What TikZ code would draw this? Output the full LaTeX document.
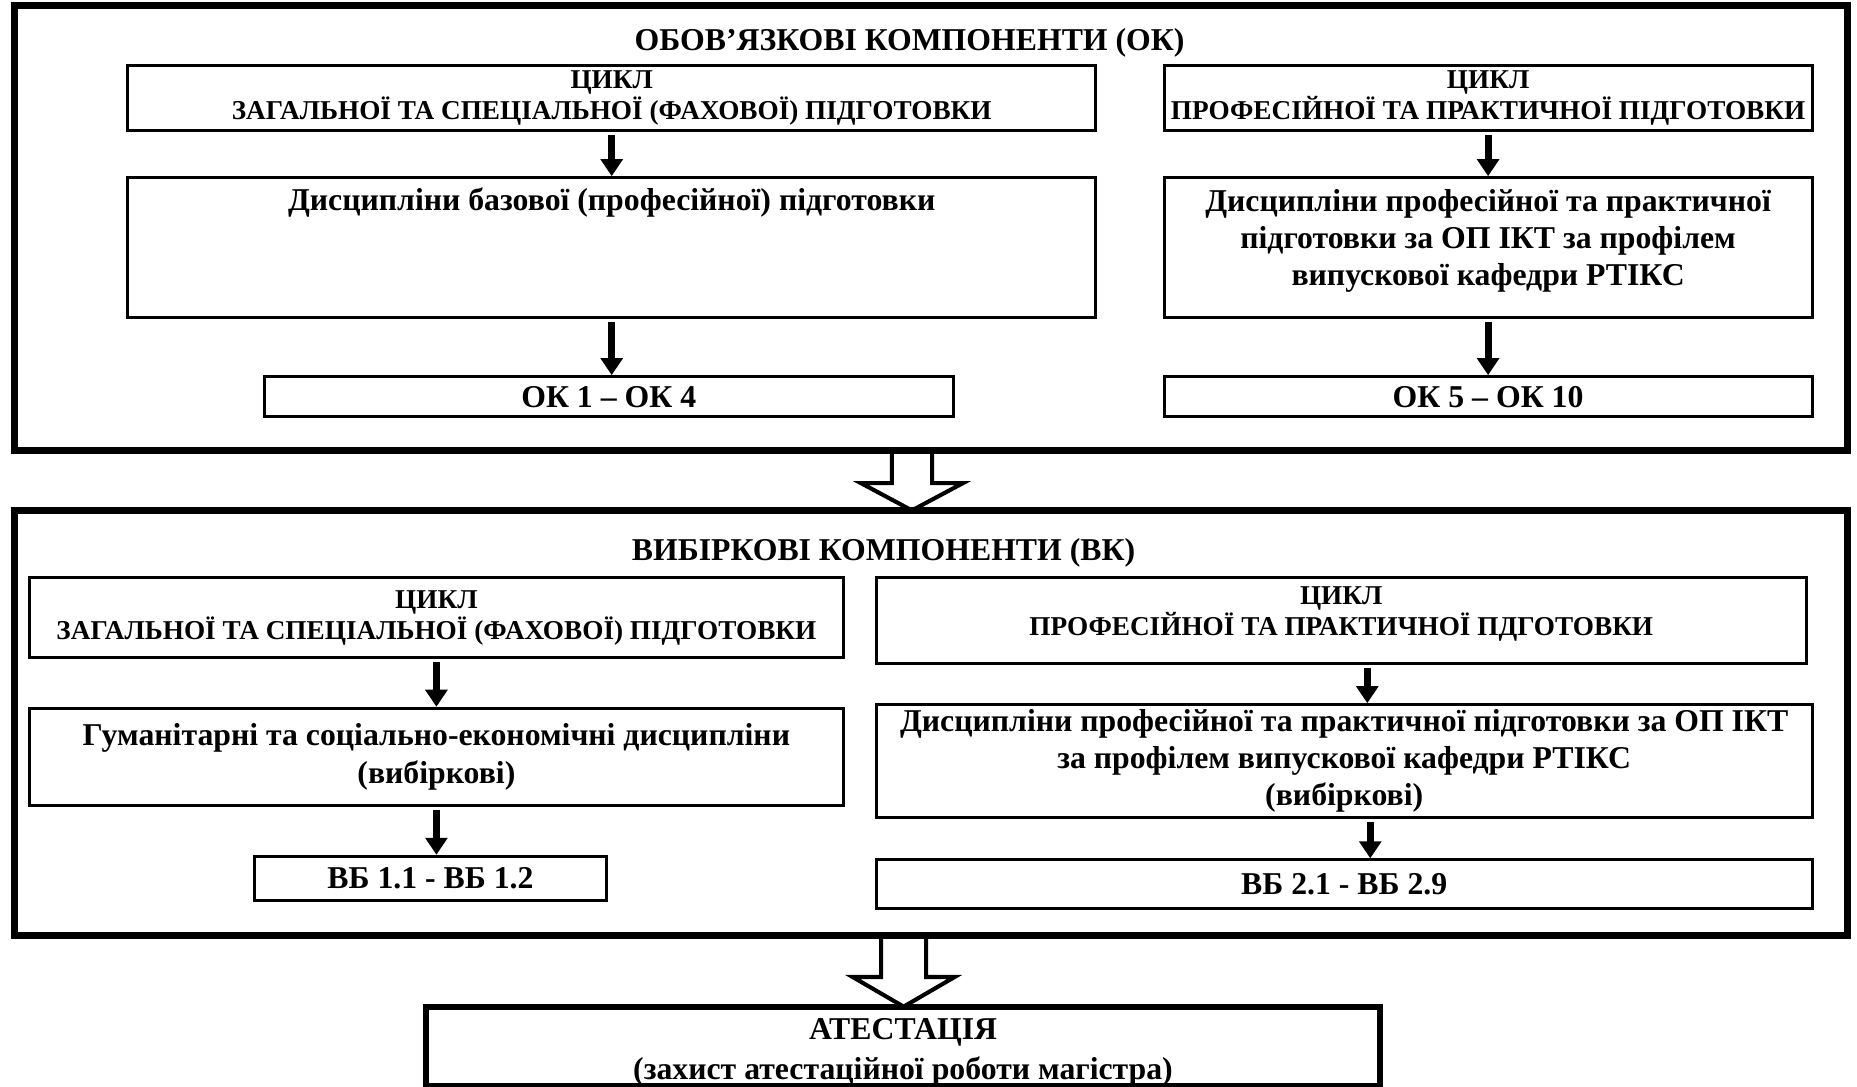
\documentclass[tikz,border=0pt]{standalone}
\usepackage{fontspec}
\setmainfont{Liberation Serif}
\usetikzlibrary{positioning,arrows.meta,calc}

\begin{document}
\begin{tikzpicture}[x=0.522pt,y=-0.522pt,
	outerframe/.style={draw,line width=3.1pt},
	box/.style={draw,line width=1.3pt,align=center,inner sep=0pt,font=\fontsize{12}{13.6}\selectfont\bfseries},
	big/.style={font=\fontsize{14}{16.4}\selectfont\bfseries},
	heading/.style={align=center,inner sep=0pt,font=\fontsize{14}{16.4}\selectfont\bfseries},
	arr/.style={line width=3pt,shorten <=1.5pt,-{Triangle[length=7.5pt,width=9.5pt]}},
	hollow/.style={draw,line width=1.8pt,line join=miter}]
\def\pix{0.522pt}
\useasboundingbox (0,0) rectangle (1568,917);

% обов'язкові компоненти
\node[outerframe,minimum width=1548*\pix,minimum height=375*\pix] (ok) at (786,192.5) {};
\node[heading] (okt) at (768,36) {ОБОВ’ЯЗКОВІ КОМПОНЕНТИ (ОК)};
\node[box,minimum width=817*\pix,minimum height=55*\pix] (cyc1) at (516.5,82.5) {ЦИКЛ\\ЗАГАЛЬНОЇ ТА СПЕЦІАЛЬНОЇ (ФАХОВОЇ) ПІДГОТОВКИ};
\node[box,minimum width=817*\pix,minimum height=118*\pix] (disc1) at (516.5,209) {};
\node[heading,below=5pt of disc1.north] (disc1t) {Дисципліни базової (професійної) підготовки};
\node[box,big,minimum width=582*\pix,minimum height=34*\pix] (ok1) at (514,335) {ОК 1 – ОК 4};
\node[box,minimum width=547*\pix,minimum height=55*\pix] (cyc2) at (1256.5,82.5) {ЦИКЛ\\ПРОФЕСІЙНОЇ ТА ПРАКТИЧНОЇ ПІДГОТОВКИ};
\node[box,big,text depth=9pt,minimum width=547*\pix,minimum height=118*\pix] (disc2) at (1256.5,209) {Дисципліни професійної та практичної\\підготовки за ОП ІКТ за профілем\\випускової кафедри РТІКС};
\node[box,big,minimum width=547*\pix,minimum height=34*\pix] (ok2) at (1256.5,335) {ОК 5 – ОК 10};

% вибіркові компоненти
\node[outerframe,minimum width=1548*\pix,minimum height=359*\pix] (vk) at (786,610.5) {};
\node[heading] (vkt) at (746,467) {ВИБІРКОВІ КОМПОНЕНТИ (ВК)};
\node[box,minimum width=687*\pix,minimum height=67*\pix] (cyc3) at (368.5,521.5) {ЦИКЛ\\ЗАГАЛЬНОЇ ТА СПЕЦІАЛЬНОЇ (ФАХОВОЇ) ПІДГОТОВКИ};
\node[box,big,minimum width=687*\pix,minimum height=82*\pix] (disc3) at (368.5,639) {Гуманітарні та соціально-економічні дисципліни\\(вибіркові)};
\node[box,big,minimum width=297*\pix,minimum height=37*\pix] (vb1) at (363.5,741.5) {ВБ 1.1 - ВБ 1.2};
\node[box,minimum width=785*\pix,minimum height=72*\pix] (cyc4) at (1132.5,524) {};
\node[box,draw=none,below=4pt of cyc4.north] (cyc4t) {ЦИКЛ\\ПРОФЕСІЙНОЇ ТА ПРАКТИЧНОЇ ПДГОТОВКИ};
\node[box,big,minimum width=790*\pix,minimum height=95*\pix] (disc4) at (1135,642.5) {Дисципліни професійної та практичної підготовки за ОП ІКТ\\за профілем випускової кафедри РТІКС\\(вибіркові)};
\node[box,big,minimum width=790*\pix,minimum height=41*\pix] (vb2) at (1135,746.5) {ВБ 2.1 - ВБ 2.9};

% атестація
\node[box,font=\fontsize{14}{17.7}\selectfont\bfseries,text height=29pt,text depth=0pt,line width=2.6pt,minimum width=805*\pix,minimum height=67*\pix] (att) at (762.5,883.5) {АТЕСТАЦІЯ\\(захист атестаційної роботи магістра)};

\foreach \a/\b in {cyc1/disc1,disc1/ok1,cyc2/disc2,disc2/ok2,cyc3/disc3,disc3/vb1}
	\draw[arr] (\a.south) -- (\a.south |- \b.north);
\coordinate (c4) at ($(cyc4.south)+(22,0)$);
\coordinate (d4) at ($(disc4.south)+(22,0)$);
\draw[arr] (c4) -- (c4 |- disc4.north);
\draw[arr] (d4) -- (d4 |- vb2.north);

% широкі стрілки
\path (ok.south) ++(-16,0) coordinate (a1);
\path (vk.south) ++(-23,0) coordinate (a2);
\draw[hollow] (a1) ++(-17,0) -- ++(0,25) -- ++(-26,0) -- ++(43,23) -- ++(43,-23) -- ++(-26,0) -- ++(0,-25);
\draw[hollow] (a2) ++(-19,0) -- ++(0,32) -- ++(-24,0) -- ++(43,25) -- ++(43,-25) -- ++(-24,0) -- ++(0,-32);
\end{tikzpicture}
\end{document}
